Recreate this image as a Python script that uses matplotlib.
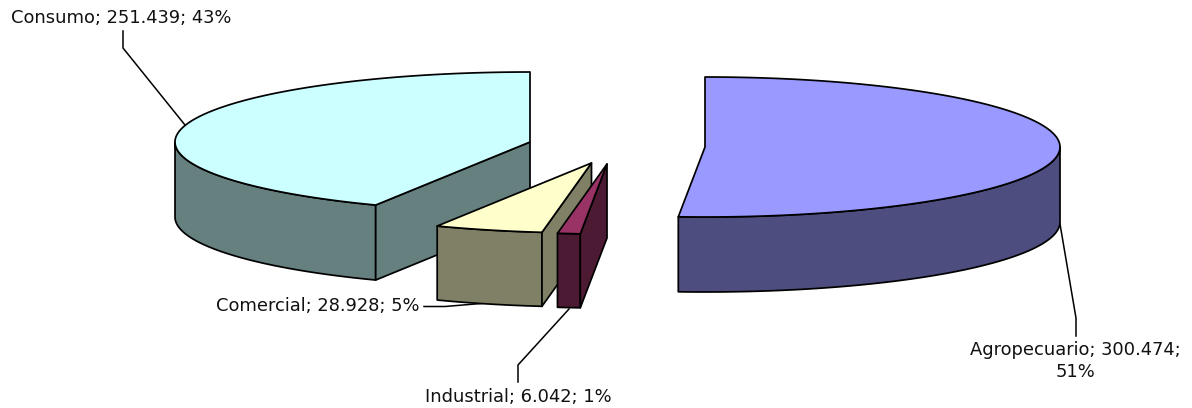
import numpy as np
from matplotlib import pyplot as plt
from matplotlib.patches import Polygon

plt.rcParams['font.family'] = ['DejaVu Sans']

# order is clockwise from 12 o'clock, as in the source chart
names = ['Agropecuario', 'Industrial', 'Comercial', 'Consumo']
values = [300.474, 6.042, 28.928, 251.439]

top_colors = ['#9999FF', '#993366', '#FFFFCC', '#CCFFFF']
side_colors = ['#4D4D80', '#4D1A33', '#808066', '#668080']

# exploded apex of every slice, in pixels
apex_x = [705, 607, 591.5, 530]
apex_y = [147, 164, 163, 142]
rx = 355
ry = 70
depth = [75, 74, 74, 75]
layer = [2, 4, 3, 2]

label_xy = [(1075, 361), (518, 397), (317.5, 306), (121, 18)]
leader_lines = [
    [(1076, 336), (1076, 318), (1060, 224)],
    [(518, 382), (518, 365), (569, 309)],
    [(424, 306.5), (445, 306.5), (487, 303)],
    [(123, 31), (123, 48), (185, 125)],
]

fig = plt.figure(figsize=(11.92, 4.08), dpi=100)
ax = fig.add_axes([0, 0, 1, 1])
ax.set_xlim(0, 1192)
ax.set_ylim(408, 0)
ax.axis('off')


def rim(cx, cy, a0, a1, dy=0):
    a = np.radians(np.linspace(a0, a1, 120))
    return np.column_stack([cx + rx * np.sin(a), cy - ry * np.cos(a) + dy])


def face(pts, color, z):
    ax.add_patch(Polygon(pts, closed=True, facecolor=color, edgecolor='black',
                         linewidth=1.25, joinstyle='round', zorder=z))


total = sum(values)
angles = np.concatenate([[0], np.cumsum(values) / total * 360])

for i, name in enumerate(names):
    a0, a1 = angles[i], angles[i + 1]
    cx, cy, d = apex_x[i], apex_y[i], depth[i]
    z = layer[i]

    # outer wall, only the front half of the rim shows
    s0, s1 = max(a0, 90), min(a1, 270)
    if s1 > s0:
        upper = rim(cx, cy, s0, s1)
        lower = rim(cx, cy, s0, s1, d)
        face(np.vstack([upper, lower[::-1]]), side_colors[i], z)

    # cut face at the slice start shows when it is turned to the viewer
    if 180 < a0 < 270:
        p = rim(cx, cy, a0, a0)[0]
        face([p, (cx, cy), (cx, cy + d), (p[0], p[1] + d)], side_colors[i], z)

    # top face
    face(np.vstack([[(cx, cy)], rim(cx, cy, a0, a1)]), top_colors[i], z + 0.05)

    pts = np.array(leader_lines[i])
    ax.plot(pts[:, 0], pts[:, 1], color='black', linewidth=1.1, zorder=1)

    pct = round(values[i] / total * 100)
    sep = ';\n' if name == 'Agropecuario' else '; '
    label = f'{name}; {values[i]:.3f}{sep}{pct}%'
    ax.text(label_xy[i][0], label_xy[i][1], label, ha='center', va='center',
            fontsize=12.9, linespacing=1.3, color='#111111')

fig.savefig('out.png', dpi=100)
